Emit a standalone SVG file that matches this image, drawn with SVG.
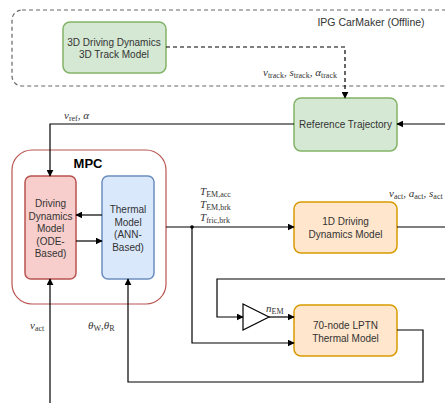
<svg xmlns="http://www.w3.org/2000/svg" width="445" height="403" viewBox="0 0 445 403">
<defs>
<marker id="ah" viewBox="0 0 10 10" refX="9" refY="5" markerWidth="7" markerHeight="7" orient="auto" markerUnits="userSpaceOnUse"><path d="M0,0 L10,5 L0,10 Z" fill="#000"/></marker>
<style>
.lbl{font-family:"Liberation Sans",Arial,sans-serif;font-size:10px;fill:#333;text-anchor:middle}
.math{font-family:"Liberation Serif","Times New Roman",serif;font-size:11px;fill:#333}
.it{font-style:italic}
.sub{font-size:8px;font-style:normal}
.ln{fill:none;stroke:#000;stroke-width:1.2}
.green{fill:#d5e8d4;stroke:#82b366;stroke-width:1.5}
.orange{fill:#ffe6cc;stroke:#d79b00;stroke-width:1.5}
</style>
</defs>
<rect x="0" y="0" width="445" height="403" fill="#fff"/>

<g id="carmaker">
<rect x="12" y="10" width="450" height="76" rx="10" fill="none" stroke="#666" stroke-width="1.2" stroke-dasharray="4 3"/>
<text x="371" y="26" class="lbl" style="font-size:10.5px">IPG CarMaker (Offline)</text>
</g>

<g id="mpc">
<rect x="12" y="150" width="154" height="154" rx="20" fill="#fff" stroke="#b85450" stroke-width="1.2"/>
<text x="88" y="168" class="lbl" style="font-size:13px;font-weight:bold;fill:#000">MPC</text>
</g>

<g id="track">
<rect x="63" y="22" width="103" height="51" rx="7" class="green"/>
<text x="114" y="46" class="lbl">3D Driving Dynamics</text>
<text x="114" y="58" class="lbl">3D Track Model</text>
</g>

<g id="reftraj">
<rect x="294" y="98" width="103" height="53" rx="7" class="green"/>
<text x="345.5" y="128" class="lbl">Reference Trajectory</text>
</g>

<g id="dd">
<rect x="25" y="176" width="51" height="103" rx="6" fill="#f8cecc" stroke="#b85450" stroke-width="1.5"/>
<text x="50.5" y="207" class="lbl">Driving</text>
<text x="50.5" y="219.5" class="lbl">Dynamics</text>
<text x="50.5" y="232" class="lbl">Model</text>
<text x="50.5" y="244.5" class="lbl">(ODE-</text>
<text x="50.5" y="257" class="lbl">Based)</text>
</g>

<g id="thermal">
<rect x="102" y="176" width="52" height="103" rx="6" fill="#dae8fc" stroke="#6c8ebf" stroke-width="1.5"/>
<text x="128" y="213" class="lbl">Thermal</text>
<text x="128" y="225.5" class="lbl">Model</text>
<text x="128" y="238" class="lbl">(ANN-</text>
<text x="128" y="250.5" class="lbl">Based)</text>
</g>

<g id="dd1d">
<rect x="294" y="202" width="103" height="51" rx="7" class="orange"/>
<text x="345.5" y="225" class="lbl">1D Driving</text>
<text x="345.5" y="238" class="lbl">Dynamics Model</text>
</g>

<g id="lptn">
<rect x="294" y="305" width="103" height="51" rx="7" class="orange"/>
<text x="345.5" y="329" class="lbl">70-node LPTN</text>
<text x="345.5" y="342" class="lbl">Thermal Model</text>
</g>

<g id="gain">
<path d="M243,304 L269,317 L243,330 Z" fill="#fff" stroke="#000" stroke-width="1.2"/>
</g>

<g id="connectors">
<path d="M166,47 H345 V98" class="ln" stroke-dasharray="4 3" marker-end="url(#ah)"/>
<path d="M445,124 H397" class="ln" marker-end="url(#ah)"/>
<path d="M294,124 H50 V176" class="ln" marker-end="url(#ah)"/>
<path d="M102,215 H76" class="ln" marker-end="url(#ah)"/>
<path d="M76,241 H102" class="ln" marker-end="url(#ah)"/>
<path d="M166,227 H294" class="ln" marker-end="url(#ah)"/>
<circle cx="192" cy="227" r="1.8" fill="#000"/>
<path d="M192,227 V343 H294" class="ln" marker-end="url(#ah)"/>
<path d="M397,227 H445" class="ln"/>
<path d="M445,279 H217 V317 H243" class="ln" marker-end="url(#ah)"/>
<path d="M269,317 H294" class="ln" marker-end="url(#ah)"/>
<path d="M397,330 H423 V382 H128 V279" class="ln" marker-end="url(#ah)"/>
<path d="M50,403 V279" class="ln" marker-end="url(#ah)"/>
</g>

<g id="labels">
<text x="263" y="76" class="math"><tspan class="it">v</tspan><tspan class="sub" dy="2">track</tspan><tspan dy="-2">, </tspan><tspan class="it">s</tspan><tspan class="sub" dy="2">track</tspan><tspan dy="-2">, </tspan><tspan class="it">α</tspan><tspan class="sub" dy="2">track</tspan></text>
<text x="64" y="119" class="math"><tspan class="it">v</tspan><tspan class="sub" dy="2">ref</tspan><tspan dy="-2">, </tspan><tspan class="it">α</tspan></text>
<text x="200" y="195" class="math"><tspan class="it">T</tspan><tspan class="sub" dy="2">EM,acc</tspan></text>
<text x="200" y="208" class="math"><tspan class="it">T</tspan><tspan class="sub" dy="2">EM,brk</tspan></text>
<text x="200" y="221" class="math"><tspan class="it">T</tspan><tspan class="sub" dy="2">fric,brk</tspan></text>
<text x="389" y="197" class="math"><tspan class="it">v</tspan><tspan class="sub" dy="2">act</tspan><tspan dy="-2">, </tspan><tspan class="it">a</tspan><tspan class="sub" dy="2">act</tspan><tspan dy="-2">, </tspan><tspan class="it">s</tspan><tspan class="sub" dy="2">act</tspan></text>
<text x="266" y="312" class="math"><tspan class="it">n</tspan><tspan class="sub" dy="2">EM</tspan></text>
<text x="30" y="329" class="math"><tspan class="it">v</tspan><tspan class="sub" dy="2">act</tspan></text>
<text x="88" y="329" class="math"><tspan class="it">θ</tspan><tspan class="sub" dy="2">W</tspan><tspan dy="-2">,</tspan><tspan class="it">θ</tspan><tspan class="sub" dy="2">R</tspan></text>
</g>
</svg>
